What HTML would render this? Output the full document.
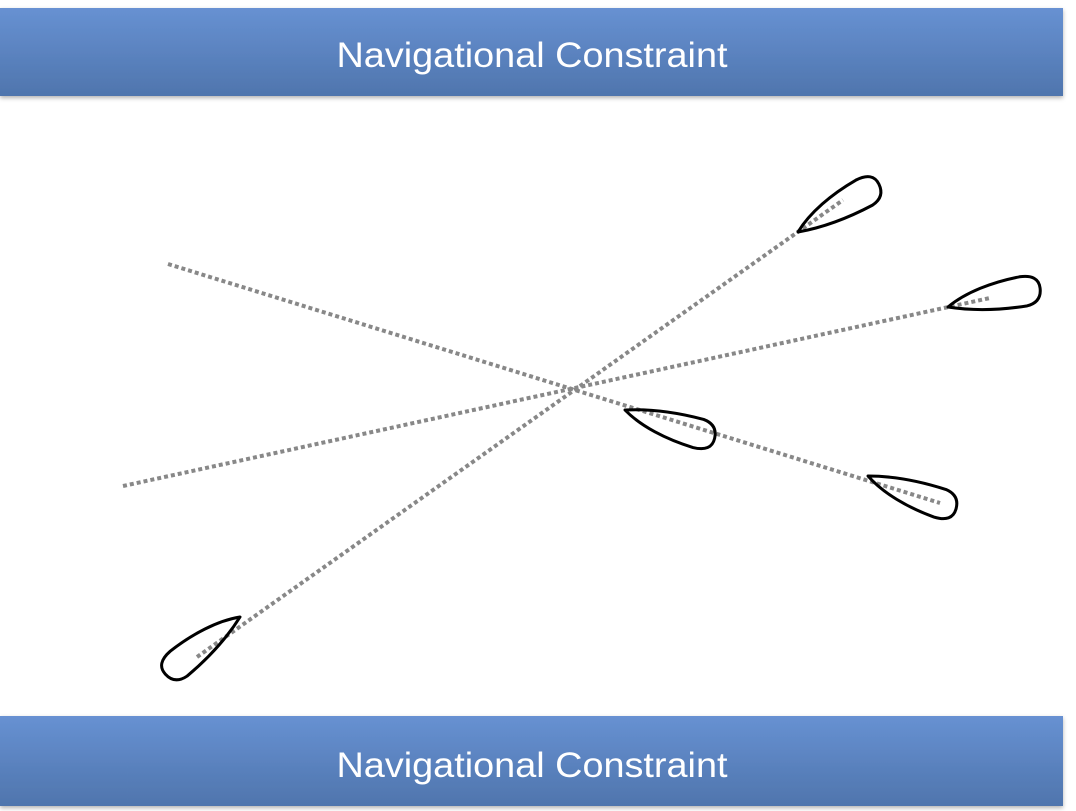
<!DOCTYPE html>
<html><head><meta charset="utf-8"><style>
html,body{margin:0;padding:0;background:#fff;width:1076px;height:811px;overflow:hidden}
</style></head><body>
<svg width="1076" height="811" viewBox="0 0 1076 811" xmlns="http://www.w3.org/2000/svg">
<defs>
<linearGradient id="g" x1="0" y1="0" x2="0" y2="1">
<stop offset="0" stop-color="#6791d2"/><stop offset="1" stop-color="#4f75ad"/>
</linearGradient>
<filter id="sh" x="-5%" y="-20%" width="110%" height="150%"><feDropShadow dx="0" dy="2" stdDeviation="2" flood-color="#000" flood-opacity="0.3"/></filter>
<path id="boat" d="M0,0 C20,-11 48,-16 76,-16 Q95,-15 94,-1 Q93,13 78,14 C50,13 22,8 0,0Z" fill="none" stroke="#000" stroke-width="3" stroke-linejoin="round"/>
</defs>
<rect x="0" y="8" width="1063" height="88" fill="url(#g)" filter="url(#sh)"/>
<rect x="0" y="716" width="1063" height="90" fill="url(#g)" filter="url(#sh)"/>
<text x="532" y="67" text-anchor="middle" font-family="Liberation Sans, sans-serif" font-size="35" fill="#fff" textLength="391" lengthAdjust="spacingAndGlyphs">Navigational Constraint</text>
<text x="532" y="777" text-anchor="middle" font-family="Liberation Sans, sans-serif" font-size="35" fill="#fff" textLength="391" lengthAdjust="spacingAndGlyphs">Navigational Constraint</text>
<g stroke="#888" stroke-width="4" stroke-dasharray="4 3" fill="none">
<line x1="168" y1="264" x2="940" y2="503"/>
<line x1="123" y1="486" x2="990" y2="298"/>
<line x1="197" y1="657" x2="843" y2="200"/>
</g>
<use href="#boat" transform="translate(798,232) rotate(-30)"/>
<use href="#boat" transform="translate(948,307) rotate(-11)"/>
<use href="#boat" transform="translate(625,410) rotate(17) scale(1,-1)"/>
<use href="#boat" transform="translate(868,476) rotate(20) scale(1,-1)"/>
<use href="#boat" transform="translate(240,617) rotate(142) scale(1,-1)"/>
</svg>
</body></html>
